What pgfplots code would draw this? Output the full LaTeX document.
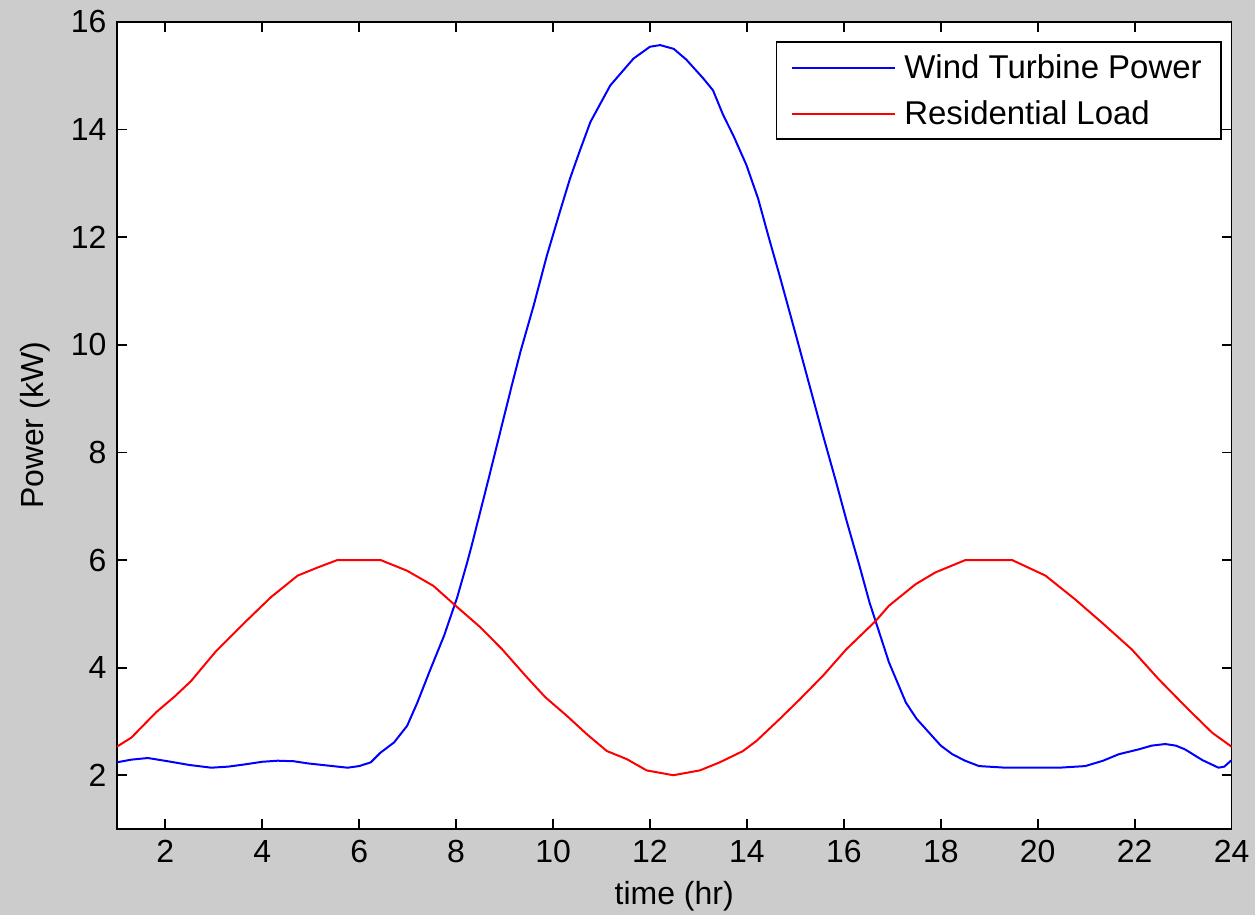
\documentclass[border=0pt]{standalone}
\usepackage{fontspec}
\setmainfont{Liberation Sans}
\usepackage{pgfplots}
\pgfplotsset{compat=1.18}
\definecolor{figbg}{RGB}{204,204,204}
\newcommand{\figfont}{\fontsize{16}{19}\selectfont}
\newcommand{\legfont}{\fontsize{16.5}{19}\selectfont}

\begin{document}
\begin{tikzpicture}
% grey figure background, 1256x916 px at 0.5pt per px
\fill[figbg] (0,0) rectangle (628pt,458pt);
\begin{axis}[
  at={(58.5pt,43pt)}, anchor=south west,
  scale only axis, width=558pt, height=404pt,
  xmin=1, xmax=24, ymin=1, ymax=16,
  xtick={2,4,...,24}, ytick={2,4,...,16},
  tick align=inside, major tick length=5pt,
  axis line style={line width=0.9pt},
  every tick/.style={black, line width=0.9pt},
  axis background/.style={fill=white},
  /pgf/number format/assume math mode=true,
  tick label style={font=\figfont},
  label style={font=\figfont},
  xlabel={time (hr)}, ylabel={Power (kW)},
  xlabel style={at={(axis description cs:0.5,-0.083)}, anchor=center},
  ylabel style={at={(axis description cs:-0.0735,0.5)}, anchor=center},
  yticklabel style={xshift=-1.7pt},
  xticklabel style={yshift=-2pt},
  legend style={at={(1,1)}, anchor=north east, xshift=-5pt, yshift=-9.75pt,
    draw=black, line width=0.9pt, font=\legfont,
    inner xsep=7.5pt, inner ysep=4pt, row sep=5.5pt, column sep=2pt},
  legend image code/.code={\draw[#1] (0pt,0pt) -- (51.5pt,0pt);},
  legend cell align=left,
]
\addplot[blue, line width=1pt] coordinates {
(1.0,2.24) (1.3,2.29) (1.64,2.32) (2.05,2.26) (2.5,2.19) (2.95,2.14)
(3.3,2.16) (3.63,2.2) (4.0,2.25) (4.32,2.27) (4.65,2.26) (4.94,2.22)
(5.35,2.18) (5.76,2.14) (6.0,2.17) (6.24,2.24) (6.44,2.42) (6.72,2.61)
(6.99,2.92) (7.2,3.35) (7.47,3.97) (7.75,4.59) (8.02,5.3) (8.23,5.96)
(8.33,6.3) (8.67,7.51) (8.91,8.38) (9.15,9.25) (9.33,9.88) (9.6,10.73)
(9.87,11.65) (10.15,12.5) (10.35,13.09) (10.55,13.6) (10.77,14.14)
(11.18,14.82) (11.66,15.32) (12.0,15.54) (12.21,15.57) (12.49,15.5)
(12.75,15.3) (13.1,14.95) (13.3,14.73) (13.51,14.27) (13.72,13.89)
(13.99,13.34) (14.23,12.72) (14.44,12.03) (14.67,11.3) (15.02,10.15)
(15.29,9.25) (15.56,8.35) (15.84,7.45) (16.05,6.75) (16.32,5.9)
(16.53,5.21) (16.66,4.85) (16.93,4.1) (17.28,3.35) (17.5,3.05)
(17.76,2.79) (18.0,2.55) (18.24,2.39) (18.5,2.27) (18.79,2.17)
(19.34,2.14) (20.44,2.14) (20.98,2.17) (21.35,2.27) (21.67,2.39)
(22.08,2.48) (22.35,2.55) (22.63,2.58) (22.85,2.55) (23.04,2.48)
(23.4,2.28) (23.73,2.14) (23.85,2.16) (24.0,2.28)
};
\addlegendentry{Wind Turbine Power}
\addplot[red, line width=1pt] coordinates {
(1.0,2.53) (1.3,2.7) (1.81,3.17) (2.2,3.47) (2.53,3.75) (3.05,4.31)
(3.64,4.84) (4.18,5.31) (4.73,5.71) (5.14,5.86) (5.55,6.0) (6.44,6.0)
(6.99,5.8) (7.53,5.52) (7.99,5.15) (8.5,4.75) (8.95,4.34) (9.43,3.85)
(9.84,3.45) (10.29,3.1) (10.7,2.76) (11.11,2.45) (11.52,2.3) (11.93,2.09)
(12.48,2.0) (13.03,2.09) (13.44,2.24) (13.92,2.45) (14.2,2.64)
(14.67,3.04) (15.09,3.41) (15.57,3.85) (16.05,4.34) (16.66,4.87)
(16.93,5.15) (17.48,5.55) (17.89,5.77) (18.51,6.0) (19.47,6.0)
(20.16,5.71) (20.77,5.27) (21.32,4.84) (21.94,4.34) (22.49,3.79)
(23.1,3.23) (23.6,2.79) (24.0,2.53)
};
\addlegendentry{Residential Load}
\end{axis}
\end{tikzpicture}
\end{document}
